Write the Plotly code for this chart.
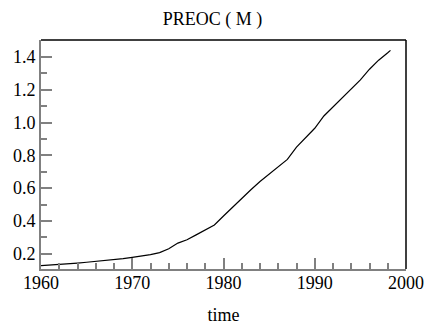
import plotly.graph_objects as go

years = [1960, 1961, 1962, 1963, 1964, 1965, 1966, 1967, 1968, 1969,
         1970, 1971, 1972, 1973, 1974, 1975, 1976, 1977, 1978, 1979,
         1980, 1981, 1982, 1983, 1984, 1985, 1986, 1987, 1988, 1989,
         1990, 1991, 1992, 1993, 1994, 1995, 1996, 1997, 1998, 1998.3]
preoc = [0.127, 0.130, 0.134, 0.138, 0.143, 0.148, 0.153, 0.158, 0.164, 0.170,
         0.178, 0.186, 0.195, 0.207, 0.230, 0.265, 0.285, 0.315, 0.345, 0.375,
         0.430, 0.485, 0.535, 0.590, 0.640, 0.685, 0.730, 0.775, 0.850, 0.905,
         0.965, 1.040, 1.095, 1.150, 1.200, 1.260, 1.325, 1.380, 1.425, 1.440]

title_text = "PREOC ( M )"
x_title = "time"

FONT = "Liberation Serif, Times New Roman, serif"
GRAY = "#808080"
TFONT = dict(family=FONT, size=18, color="black")

fig = go.Figure()
fig.add_trace(go.Scatter(x=years, y=preoc, mode="lines",
                         line=dict(color="black", width=1.2), showlegend=False))

fig.update_layout(
    width=425, height=328,
    margin=dict(l=41, r=19, t=40, b=58.5, autoexpand=False),
    paper_bgcolor="white", plot_bgcolor="white",
    font=TFONT,
    title=dict(text=title_text, x=0.5, xanchor="center", y=1 - 19 / 328, yanchor="middle",
               font=TFONT),
    xaxis=dict(range=[1960, 2000], tickmode="linear", tick0=1960, dtick=10,
               automargin=False,
               ticks="inside", ticklen=11, tickwidth=1.5, tickcolor=GRAY,
               tickfont=TFONT, ticklabelstandoff=-4,
               minor=dict(dtick=2, ticks="inside", ticklen=6, tickwidth=1.5, tickcolor=GRAY),
               showline=True, linecolor=GRAY, linewidth=2, mirror=False,
               showgrid=False, zeroline=False,
               title=dict(text=x_title, standoff=17, font=TFONT)),
    yaxis=dict(range=[0.107, 1.503], tickmode="linear", tick0=0.2, dtick=0.2,
               automargin=False,
               tickformat=".1f", tickfont=TFONT,
               ticks="inside", ticklen=11, tickwidth=1.5, tickcolor=GRAY,
               minor=dict(dtick=0.1, ticks="inside", ticklen=6, tickwidth=1.5, tickcolor=GRAY),
               showline=True, linecolor=GRAY, linewidth=2, mirror=False,
               showgrid=False, zeroline=False, ticklabelstandoff=0),
    shapes=[
        dict(type="line", xref="paper", yref="paper", x0=0, x1=1, y0=1, y1=1,
             line=dict(color="black", width=1.5)),
        dict(type="line", xref="paper", yref="paper", x0=1, x1=1, y0=0, y1=1,
             line=dict(color="black", width=1.5)),
    ],
)

fig.write_html("out.html", config={"displayModeBar": False},
               post_script="document.body.style.margin='0';document.body.style.overflow='hidden';")
